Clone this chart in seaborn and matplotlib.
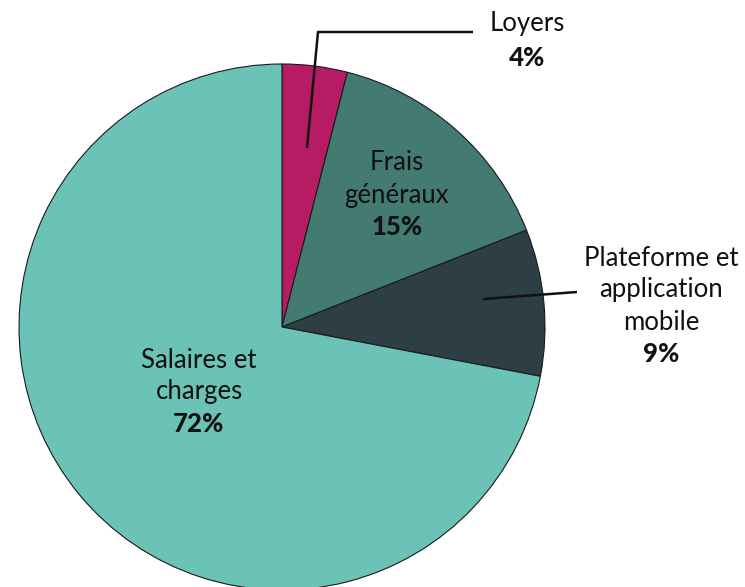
import matplotlib
matplotlib.use("Agg")
import matplotlib.pyplot as plt
import seaborn as sns

sns.set_theme(style="white")
plt.rcParams['font.family'] = ['Lato', 'DejaVu Sans']

categories = ["Loyers", "Frais\ngénéraux", "Plateforme et\napplication\nmobile", "Salaires et\ncharges"]
values = [4, 15, 9, 72]
colors = ["#B71B63", "#437A72", "#2D3E45", "#6BC2B6"]

W, H = 745, 587
CX, CY, R = 282, 327, 263

def px(x, y):
    return ((x - CX) / R, (CY - y) / R)

fig = plt.figure(figsize=(W / 100, H / 100), dpi=100)
ax = fig.add_axes([0, 0, 1, 1])
ax.pie(values, colors=colors, startangle=90, counterclock=False,
       wedgeprops=dict(edgecolor="#1a1a1a", linewidth=0.8))
ax.set_xlim(-CX / R, (W - CX) / R)
ax.set_ylim(-(H - CY) / R, CY / R)
ax.set_aspect("equal")
ax.axis("off")

fs = 18.5
lc = "#111111"

def label(xc, y_top_px, text, pct, line_h=32):
    lines = text.split("\n")
    for i, ln in enumerate(lines):
        x, y = px(xc, y_top_px + i * line_h)
        ax.text(x, y, ln, ha="center", va="center", fontsize=fs, color=lc)
    x, y = px(xc, y_top_px + len(lines) * line_h)
    ax.text(x, y, f"{pct}%", ha="center", va="center", fontsize=fs,
            fontweight="black", color=lc)

# Loyers leader line
xs, ys = zip(*[px(307, 148), px(318, 32), px(473, 32)])
ax.plot(xs, ys, color="#111111", lw=1.8, solid_capstyle="butt")
label(527, 24, categories[0], values[0], line_h=34)

label(397, 163, categories[1], values[1])

xs, ys = zip(*[px(483, 299), px(577, 292)])
ax.plot(xs, ys, color="#111111", lw=1.8, solid_capstyle="butt")
label(661, 258, categories[2], values[2])

label(199, 360, categories[3], values[3])

fig.savefig("out.png", dpi=100)
